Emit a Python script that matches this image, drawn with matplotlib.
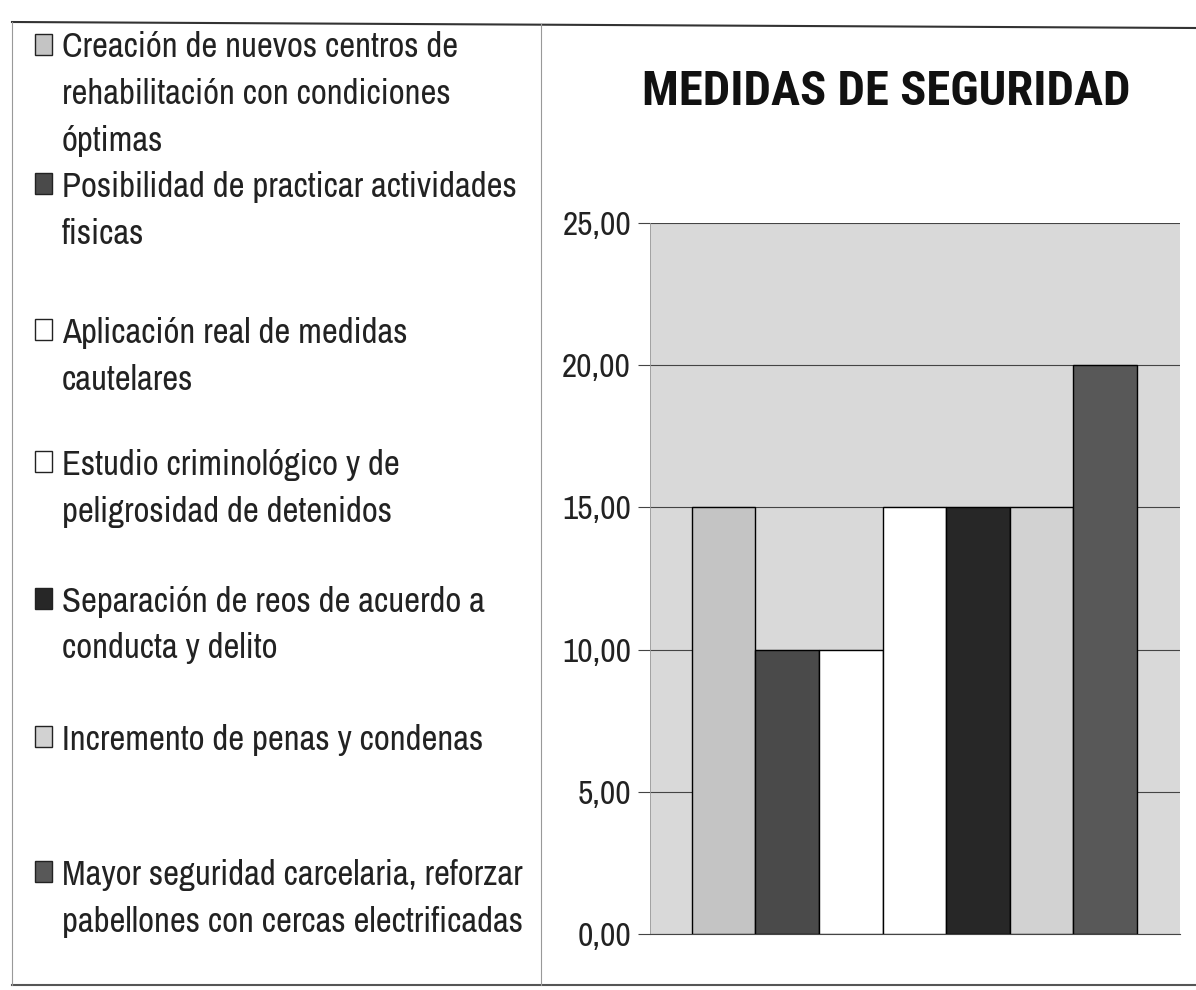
import matplotlib.pyplot as plt
from matplotlib.patches import Rectangle
from matplotlib.lines import Line2D
import numpy as np

# data
labels = [
    'Creación de nuevos centros de\nrehabilitación con condiciones\nóptimas',
    'Posibilidad de practicar actividades\nfisicas',
    'Aplicación real de medidas\ncautelares',
    'Estudio criminológico y de\npeligrosidad de detenidos',
    'Separación de reos de acuerdo a\nconducta y delito',
    'Incremento de penas y condenas',
    'Mayor seguridad carcelaria, reforzar\npabellones con cercas electrificadas',
]
values = [15, 10, 10, 15, 15, 15, 20]
colors = ['#c4c4c4', '#4a4a4a', '#ffffff', '#ffffff', '#272727', '#d2d2d2', '#585858']
yticks = [0, 5, 10, 15, 20, 25]
title = 'MEDIDAS DE SEGURIDAD'

FONT = ['Archivo Narrow', 'Roboto Condensed', 'DejaVu Sans']
TFONT = ['Roboto Condensed', 'DejaVu Sans']
W, H = 1196, 990
LINE = 46.5  # legend line step in pixels


def px(x, y):
    return x / W, 1 - y / H


fig = plt.figure(figsize=(W / 100, H / 100), dpi=100)

# plot area
ax = fig.add_axes([650 / W, (H - 934) / H, 530 / W, 711 / H])
ax.set_facecolor('#d9d9d9')
x = np.arange(len(values))
ax.bar(x, values, width=1.0, color=colors, edgecolor='black', linewidth=1.0, zorder=3)
ax.set_xlim(-1.16, 7.18)
ax.set_ylim(0, 25)
ax.set_yticks(yticks)
ax.set_yticklabels([f'{v:.2f}'.replace('.', ',') for v in yticks],
                   family=FONT, fontsize=24, color='#222222')
ax.set_xticks([])
ax.grid(axis='y', color='#444444', linewidth=0.8, zorder=1)
ax.tick_params(axis='y', length=8.6, width=0.8, color='#444444', pad=5)
for s in ['top', 'right']:
    ax.spines[s].set_visible(False)
ax.spines['left'].set_color('#999999')
ax.spines['left'].set_linewidth(0.6)
ax.spines['bottom'].set_color('#444444')
ax.spines['bottom'].set_linewidth(0.8)

# title
fig.text(*px(886, 105), title, family=TFONT, fontsize=35, fontweight='bold',
         ha='center', va='baseline', color='#111111')

# legend on the left (first-line baselines in pixels)
leg_base = [58, 197, 343, 475, 612, 750, 885]
for lab, col, yb in zip(labels, colors, leg_base):
    n = lab.count('\n')
    fig.text(*px(62, yb + n * LINE), lab, family=FONT, fontsize=25, color='#222222',
             ha='left', va='baseline', linespacing=1.576)
    fig.patches.append(Rectangle(px(35, yb - 3), 17 / W, 21 / H, transform=fig.transFigure,
                                 facecolor=col, edgecolor='#222222', linewidth=1.0))

# frame lines of the scanned box
fig.lines.append(Line2D([12 / W, 1], [1 - 22 / H, 1 - 28 / H], transform=fig.transFigure,
                        color='#333333', linewidth=1.5))
fig.lines.append(Line2D([12 / W, 1], [1 - 985 / H, 1 - 985 / H], transform=fig.transFigure,
                        color='#555555', linewidth=1.5))
fig.lines.append(Line2D([12 / W, 12 / W], [1 - 22 / H, 1 - 985 / H], transform=fig.transFigure,
                        color='#999999', linewidth=0.8))
fig.lines.append(Line2D([541 / W, 541 / W], [1 - 24 / H, 1 - 985 / H], transform=fig.transFigure,
                        color='#999999', linewidth=0.8))

fig.savefig('out.png', dpi=100)
